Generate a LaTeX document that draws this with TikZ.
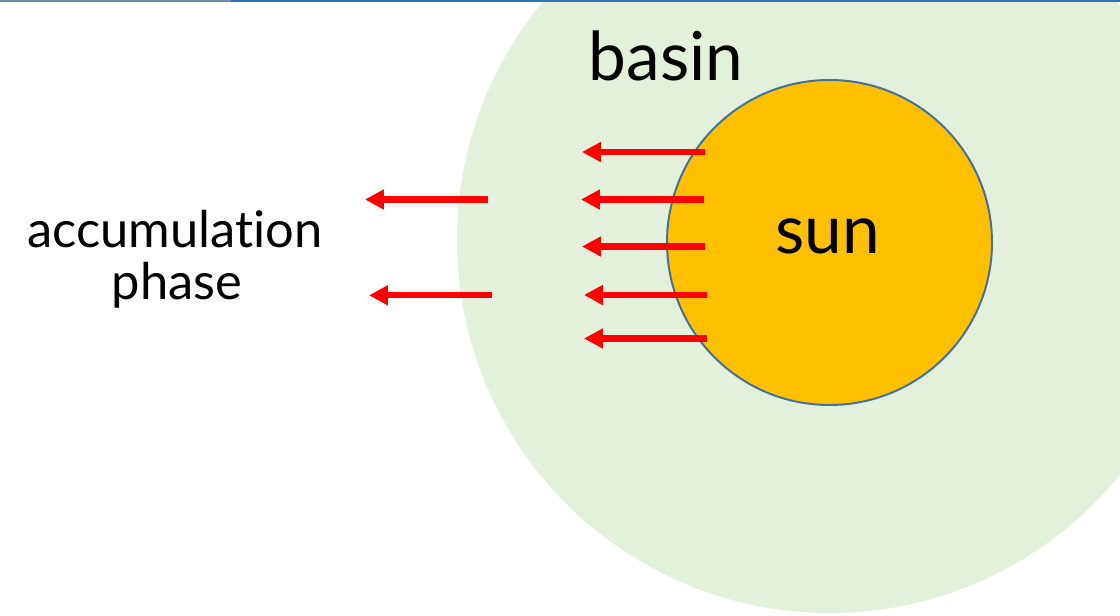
\documentclass[tikz,border=0pt]{standalone}
\usepackage{fontspec}
\setmainfont{Lato}[Ligatures=NoCommon]
\usetikzlibrary{arrows.meta}
\definecolor{basingreen}{HTML}{E3F0DC}
\definecolor{sunorange}{HTML}{FFC000}
\definecolor{sunedge}{HTML}{41719C}
\definecolor{rulegrey}{HTML}{6F8BAA}
\definecolor{ruleblue}{HTML}{2E75B6}
\tikzset{
  flow/.style={red, line width=4.3pt, -{Triangle[length=13.5pt,width=13.5pt]}},
  bigtag/.style={font=\fontsize{48}{56}\selectfont, anchor=base},
  sidetag/.style={font=\fontsize{36}{42}\selectfont, anchor=base}
}
\begin{document}
\begin{tikzpicture}[x=0.025cm,y=-0.025cm]
  \useasboundingbox (0,0) rectangle (1120,616);
  \clip (0,0) rectangle (1120,616);

  % basin and sun
  \fill[basingreen] (830,240) circle (373);
  \draw[sunedge, line width=1.4pt, fill=sunorange] (829.5,242.5) circle (162.5);

  % rule along the top
  \fill[rulegrey] (0,0) rectangle (231,1.6);
  \fill[ruleblue] (231,0) rectangle (1120,2.2);

  % labels
  \node[bigtag] (basin) at (666,81) {basin};
  \node[bigtag] (sun) at (828,254) {sun};
  \node[sidetag] (accum) at (175,248) {accumulation};
  \node[sidetag] (phase) at (177,300) {phase};

  % outflow arrows
  \foreach \n/\yy/\xa/\xb in {1/152/705/582, 2/199.5/704/581, 3/246.5/705/582,
                               4/295/707/584, 5/338.5/707/584,
                               6/199.5/488/365, 7/295.3/492/369} {
    \coordinate (tail\n) at (\xa,\yy);
    \coordinate (tip\n) at (\xb,\yy);
    \draw[flow] (tail\n) -- (tip\n);
  }
\end{tikzpicture}
\end{document}
